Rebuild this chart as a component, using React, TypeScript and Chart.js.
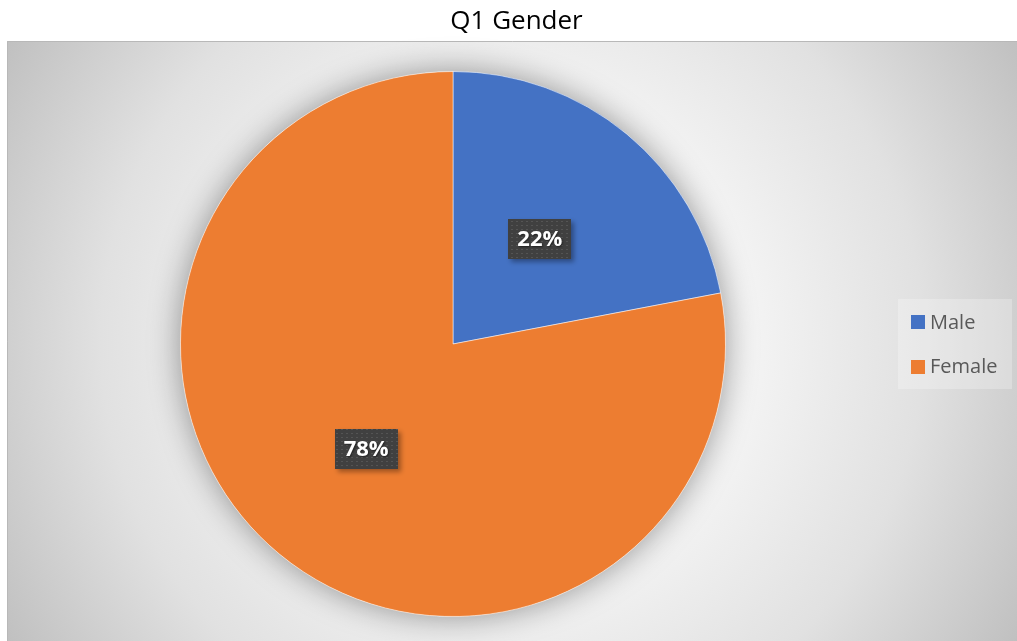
import React, { useEffect, useRef } from "react";
import { Chart, registerables } from "chart.js";
Chart.register(...registerables);

const chartTitle = "Q1 Gender";
const categories = ["Male", "Female"];
const values = [22, 78];
const sliceColors = ["#4472C4", "#ED7D31"];

const FONT = "'Open Sans', 'Noto Sans', sans-serif";

function makePattern(ctx: CanvasRenderingContext2D) {
  const c = document.createElement("canvas");
  c.width = 5;
  c.height = 4;
  const p = c.getContext("2d")!;
  p.fillStyle = "#404040";
  p.fillRect(0, 0, 5, 4);
  p.fillStyle = "#545454";
  p.fillRect(1, 1, 2, 1);
  return ctx.createPattern(c, "repeat");
}

const bgPlugin = {
  id: "bgPlugin",
  beforeDraw(chart: any) {
    const { ctx, width, height } = chart;
    ctx.save();
    ctx.fillStyle = "#ffffff";
    ctx.fillRect(0, 0, width, height);
    const x0 = 7, y0 = 41, x1 = width, y1 = height;
    const cx = (x0 + x1) / 2, cy = (y0 + y1) / 2;
    const r = Math.hypot(x1 - cx, y1 - cy);
    const g = ctx.createRadialGradient(cx, cy, 0, cx, cy, r);
    g.addColorStop(0, "#ffffff");
    g.addColorStop(0.35, "#f7f7f7");
    g.addColorStop(0.7, "#e1e1e1");
    g.addColorStop(1, "#c0c0c0");
    ctx.fillStyle = g;
    ctx.fillRect(x0, y0, x1 - x0, y1 - y0);
    ctx.strokeStyle = "#b8b8b8";
    ctx.lineWidth = 1;
    ctx.beginPath();
    ctx.moveTo(x0 + 0.5, y1);
    ctx.lineTo(x0 + 0.5, y0 + 0.5);
    ctx.lineTo(x1, y0 + 0.5);
    ctx.stroke();
    ctx.restore();
  },
  beforeDatasetsDraw(chart: any) {
    const meta = chart.getDatasetMeta(0);
    const arc = meta.data[0];
    if (!arc) return;
    const { ctx } = chart;
    ctx.save();
    ctx.shadowColor = "rgba(0,0,0,0.4)";
    ctx.shadowBlur = 32;
    ctx.shadowOffsetX = 0;
    ctx.shadowOffsetY = 0;
    ctx.fillStyle = "#ffffff";
    ctx.beginPath();
    ctx.arc(arc.x, arc.y, arc.outerRadius, 0, Math.PI * 2);
    ctx.fill();
    ctx.restore();
  },
  afterDatasetsDraw(chart: any) {
    const { ctx } = chart;
    const meta = chart.getDatasetMeta(0);
    const data = chart.data.datasets[0].data as number[];
    const total = data.reduce((a, b) => a + b, 0);
    const pattern = makePattern(ctx);
    meta.data.forEach((arc: any, i: number) => {
      const pt = arc.getCenterPoint();
      const txt = Math.round((data[i] / total) * 100) + "%";
      ctx.save();
      ctx.font = `bold 22px ${FONT}`;
      const tw = ctx.measureText(txt).width;
      const bw = tw + 18;
      const bh = 40;
      const bx = Math.round(pt.x - bw / 2);
      const by = Math.round(pt.y - bh / 2);
      ctx.shadowColor = "rgba(0,0,0,0.35)";
      ctx.shadowBlur = 5;
      ctx.shadowOffsetX = 3;
      ctx.shadowOffsetY = 3;
      ctx.fillStyle = pattern || "#404040";
      ctx.fillRect(bx, by, bw, bh);
      ctx.shadowColor = "rgba(0,0,0,0.5)";
      ctx.shadowBlur = 2;
      ctx.shadowOffsetX = 1;
      ctx.shadowOffsetY = 1;
      ctx.fillStyle = "#ffffff";
      ctx.textAlign = "center";
      ctx.textBaseline = "middle";
      ctx.fillText(txt, pt.x, pt.y + 1);
      ctx.restore();
    });
  },
  afterDraw(chart: any) {
    const { ctx, width } = chart;
    ctx.save();
    // title
    ctx.font = `26px ${FONT}`;
    ctx.fillStyle = "#000000";
    ctx.textAlign = "center";
    ctx.textBaseline = "middle";
    ctx.fillText(chartTitle, width / 2 + 8, 22);
    // legend
    const lx = 898, ly = 299, lw = 114, lh = 90;
    ctx.fillStyle = "rgba(255,255,255,0.25)";
    ctx.fillRect(lx, ly, lw, lh);
    const labels = chart.data.labels as string[];
    const cols = chart.data.datasets[0].backgroundColor as string[];
    ctx.font = `20px ${FONT}`;
    ctx.textAlign = "left";
    labels.forEach((lab, i) => {
      const yc = 322 + i * 44.5;
      ctx.fillStyle = cols[i];
      ctx.fillRect(911, Math.round(yc - 7), 14, 14);
      ctx.fillStyle = "#595959";
      ctx.fillText(lab, 930, yc + 1);
    });
    ctx.restore();
  },
};

export default function App() {
  const ref = useRef<HTMLCanvasElement>(null);
  useEffect(() => {
    if (!ref.current) return;
    const chart = new Chart(ref.current, {
      type: "pie",
      data: {
        labels: categories,
        datasets: [
          {
            data: values,
            backgroundColor: sliceColors,
            borderColor: "rgba(255,255,255,0.5)",
            borderWidth: 1,
          },
        ],
      },
      options: {
        responsive: false,
        animation: false,
        devicePixelRatio: 1,
        layout: { padding: { left: 180, right: 291, top: 71, bottom: 24 } },
        plugins: {
          legend: { display: false },
          title: { display: false },
          tooltip: { enabled: false },
        },
      },
      plugins: [bgPlugin],
    });
    return () => chart.destroy();
  }, []);
  return (
    <div style={{ position: "absolute", left: 0, top: 0, width: 1017, height: 641 }}>
      <canvas ref={ref} width={1017} height={641} style={{ display: "block" }} />
    </div>
  );
}
